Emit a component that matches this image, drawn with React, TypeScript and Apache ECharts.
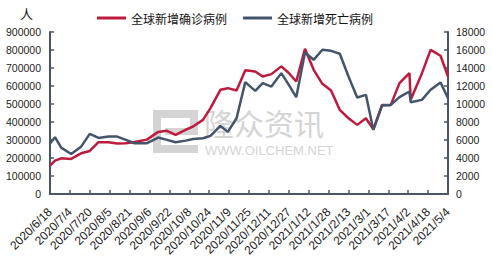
import React, { useEffect, useRef } from "react";
import * as echarts from "echarts";

const xLabels = [
  "2020/6/18", "2020/7/4", "2020/7/20", "2020/8/5", "2020/8/21", "2020/9/6", "2020/9/22",
  "2020/10/8", "2020/10/24", "2020/11/9", "2020/11/25", "2020/12/11", "2020/12/27",
  "2021/1/12", "2021/1/28", "2021/2/13", "2021/3/1", "2021/3/17", "2021/4/2", "2021/4/18", "2021/5/4",
];

const dates = [
  "2020/6/18", "2020/6/22", "2020/6/27", "2020/7/5", "2020/7/13", "2020/7/20", "2020/7/27",
  "2020/8/4", "2020/8/11", "2020/8/18", "2020/8/25", "2020/9/4", "2020/9/13", "2020/9/20",
  "2020/9/27", "2020/10/5", "2020/10/11", "2020/10/19", "2020/10/25", "2020/11/2", "2020/11/8",
  "2020/11/15", "2020/11/22", "2020/11/30", "2020/12/6", "2020/12/13", "2020/12/21", "2020/12/27",
  "2021/1/2", "2021/1/9", "2021/1/16", "2021/1/23", "2021/1/30", "2021/2/6", "2021/2/13",
  "2021/2/20", "2021/2/27", "2021/3/5", "2021/3/12", "2021/3/19", "2021/3/26", "2021/4/3",
  "2021/4/4", "2021/4/13", "2021/4/20", "2021/4/28", "2021/5/4",
];

const confirmed = [
  158000, 185000, 198000, 195000, 226000, 239000, 288000, 288000, 280000, 282000,
  289000, 302000, 345000, 351000, 328000, 356000, 375000, 412000, 477000, 579000,
  588000, 575000, 688000, 681000, 653000, 666000, 709000, 672000, 625000, 807000,
  690000, 612000, 575000, 467000, 421000, 384000, 421000, 360000, 495000, 495000,
  616000, 672000, 523000, 670000, 801000, 768000, 653000,
];

const deaths = [
  5600, 6310, 5150, 4450, 5260, 6680, 6230, 6380, 6380, 6010,
  5640, 5640, 6270, 6010, 5750, 5930, 6120, 6200, 6460, 7570,
  6900, 8420, 12430, 11460, 12320, 11940, 13430, 12130, 10760, 15730,
  14910, 16030, 15910, 15580, 13050, 10720, 11020, 7120, 9830, 9900,
  10760, 11390, 10200, 10460, 11580, 12390, 10650,
];

const seriesNames = ["全球新增确诊病例", "全球新增死亡病例"];
const unitLabel = "人";

const toDay = (s: string) => {
  const [y, m, d] = s.split("/").map(Number);
  return (Date.UTC(y, m - 1, d) - Date.UTC(2020, 5, 18)) / 86400000;
};

const RED = "#be1a3e";
const GREY = "#44546a";
const AXIS = "#4a5663";
const FONT = "'Liberation Sans', Arial, sans-serif";
const CJK = "'Noto Sans CJK SC', sans-serif";
const WM = "#d4d4d4";

export default function App() {
  const ref = useRef<HTMLDivElement>(null);
  useEffect(() => {
    const chart = echarts.init(ref.current!, null, { renderer: "svg" });
    const days = dates.map(toDay);
    const axisCommon = {
      axisLine: { show: true, lineStyle: { color: AXIS, width: 2 } },
      axisTick: { show: true, inside: true, length: 4, lineStyle: { color: AXIS, width: 1.5 } },
      splitLine: { show: false },
    };
    const plain = (v: number) => String(v);
    chart.setOption({
      animation: false,
      backgroundColor: "#ffffff",
      graphic: [
        { type: "rect", z: 0, shape: { x: 153, y: 110, width: 45, height: 8 }, style: { fill: WM } },
        { type: "rect", z: 0, shape: { x: 153, y: 110, width: 8, height: 43 }, style: { fill: WM } },
        { type: "rect", z: 0, shape: { x: 190, y: 110, width: 8, height: 25 }, style: { fill: WM } },
        { type: "rect", z: 0, shape: { x: 165, y: 128, width: 33, height: 7 }, style: { fill: WM } },
        { type: "rect", z: 0, shape: { x: 153, y: 145, width: 45, height: 8 }, style: { fill: WM } },
        {
          type: "text", z: 0, left: 204, top: 107,
          style: { text: "隆众资讯", fill: WM, font: `30px ${CJK}` },
        },
        {
          type: "text", z: 0, left: 205, top: 144,
          style: { text: "WWW.OILCHEM.NET", fill: WM, font: `13px ${FONT}` },
        },
        {
          type: "text", left: 20, top: 7,
          style: { text: unitLabel, fill: "#111", font: `13px ${CJK}` },
        },
      ],
      legend: {
        data: seriesNames,
        left: 92,
        top: 7,
        icon: "rect",
        itemWidth: 29,
        itemHeight: 3,
        itemGap: 16,
        textStyle: { fontSize: 12, color: "#111", fontFamily: CJK },
      },
      grid: { left: 50, right: 44, top: 32, bottom: 71, containLabel: false },
      xAxis: {
        type: "value",
        min: 0,
        max: 320,
        interval: 16,
        ...axisCommon,
        axisLabel: {
          rotate: 45,
          margin: 16,
          fontSize: 12,
          color: "#222",
          fontFamily: FONT,
          showMinLabel: true,
          showMaxLabel: true,
          formatter: (v: number) => xLabels[Math.round(v / 16)] ?? "",
        },
      },
      yAxis: [
        {
          type: "value",
          position: "left",
          min: 0,
          max: 900000,
          interval: 100000,
          ...axisCommon,
          axisLabel: { fontSize: 10.5, color: "#222", fontFamily: FONT, margin: 9, formatter: plain },
        },
        {
          type: "value",
          position: "right",
          min: 0,
          max: 18000,
          interval: 2000,
          ...axisCommon,
          axisLabel: { fontSize: 10.5, color: "#222", fontFamily: FONT, margin: 8, formatter: plain },
        },
      ],
      series: [
        {
          name: seriesNames[0],
          type: "line",
          yAxisIndex: 0,
          symbol: "none",
          z: 3,
          color: RED,
          lineStyle: { width: 2.5, color: RED },
          data: confirmed.map((v, i) => [days[i], v]),
        },
        {
          name: seriesNames[1],
          type: "line",
          yAxisIndex: 1,
          symbol: "none",
          z: 4,
          color: GREY,
          lineStyle: { width: 2.5, color: GREY },
          data: deaths.map((v, i) => [days[i], v]),
        },
      ],
    });
    return () => chart.dispose();
  }, []);
  return (
    <div
      ref={ref}
      style={{ position: "fixed", left: 0, top: 0, width: 492, height: 265 }}
    />
  );
}
